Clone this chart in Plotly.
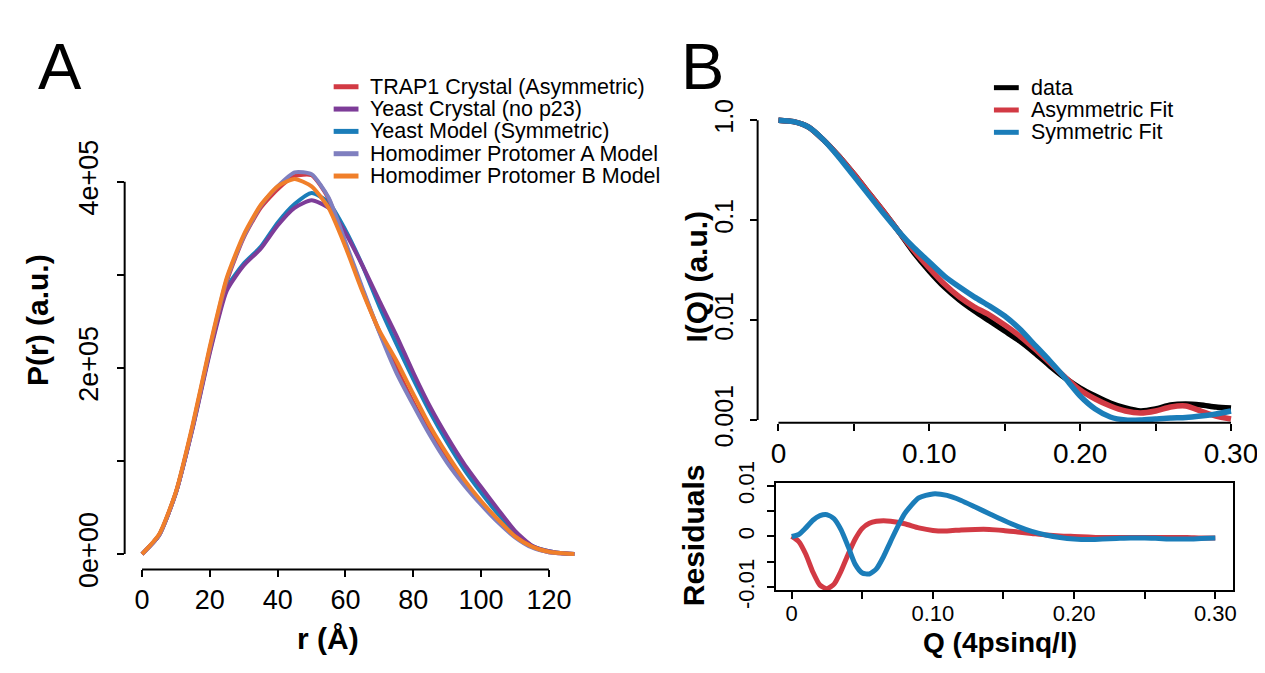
import plotly.graph_objects as go

W, H = 1265, 673

# ---------------- Panel A data: pair distance distributions ----------------
r_vals = [0, 5, 10, 15, 20, 25, 30, 35, 40, 45, 50, 55, 60, 65, 70, 75, 80, 85,
          90, 95, 100, 105, 110, 115, 120, 125, 127.5]
pr_trap1 = [0, 0.20e5, 0.66e5, 1.38e5, 2.20e5, 2.93e5, 3.40e5, 3.72e5, 3.92e5, 4.06e5,
            4.07e5, 3.82e5, 3.33e5, 2.84e5, 2.39e5, 2.00e5, 1.63e5, 1.30e5, 1.01e5,
            0.76e5, 0.55e5, 0.36e5, 0.19e5, 0.08e5, 0.02e5, 0.005e5, 0]
pr_yeast_crystal = [0, 0.20e5, 0.66e5, 1.36e5, 2.16e5, 2.83e5, 3.10e5, 3.28e5, 3.53e5, 3.72e5,
                    3.80e5, 3.72e5, 3.45e5, 3.10e5, 2.72e5, 2.35e5, 1.95e5, 1.58e5, 1.26e5,
                    0.97e5, 0.72e5, 0.48e5, 0.25e5, 0.09e5, 0.03e5, 0.005e5, 0]
pr_yeast_model = [0, 0.20e5, 0.66e5, 1.37e5, 2.18e5, 2.86e5, 3.12e5, 3.30e5, 3.56e5, 3.76e5,
                  3.88e5, 3.78e5, 3.48e5, 3.10e5, 2.66e5, 2.26e5, 1.88e5, 1.52e5, 1.20e5,
                  0.91e5, 0.66e5, 0.43e5, 0.23e5, 0.09e5, 0.03e5, 0.005e5, 0]
pr_homo_a = [0, 0.20e5, 0.66e5, 1.38e5, 2.21e5, 2.95e5, 3.41e5, 3.74e5, 3.95e5, 4.10e5,
             4.08e5, 3.83e5, 3.35e5, 2.86e5, 2.38e5, 1.95e5, 1.60e5, 1.27e5, 0.98e5,
             0.74e5, 0.53e5, 0.34e5, 0.18e5, 0.07e5, 0.02e5, 0.005e5, 0]
pr_homo_b = [0, 0.21e5, 0.67e5, 1.40e5, 2.23e5, 2.97e5, 3.43e5, 3.75e5, 3.95e5, 4.03e5,
             3.95e5, 3.72e5, 3.30e5, 2.82e5, 2.40e5, 2.08e5, 1.72e5, 1.37e5, 1.07e5,
             0.80e5, 0.57e5, 0.37e5, 0.19e5, 0.08e5, 0.025e5, 0.005e5, 0]

a_names = ["TRAP1 Crystal (Asymmetric)", "Yeast Crystal (no p23)", "Yeast Model (Symmetric)",
           "Homodimer Protomer A Model", "Homodimer Protomer B Model"]
a_colors = ["#D23A44", "#7D3C98", "#1B7DB9", "#7F7FBF", "#F07F2A"]
a_series = [pr_trap1, pr_yeast_crystal, pr_yeast_model, pr_homo_a, pr_homo_b]
a_draw_order = [2, 1, 0, 3, 4]

a_xticks = [0, 20, 40, 60, 80, 100, 120]
a_yticks = [0, 1e5, 2e5, 3e5, 4e5]
a_yticktext = ["0e+00", "", "2e+05", "", "4e+05"]

# ---------------- Panel B data: scattering profiles ----------------
q_vals = [0, 0.01, 0.02, 0.03, 0.04, 0.05, 0.06, 0.07, 0.08, 0.09, 0.10, 0.11, 0.12,
          0.13, 0.14, 0.15, 0.16, 0.17, 0.18, 0.19, 0.20, 0.21, 0.22, 0.23, 0.24,
          0.25, 0.26, 0.27, 0.28, 0.29, 0.30]
logi_data = [0, -0.015, -0.07, -0.20, -0.36, -0.54, -0.73, -0.92, -1.12, -1.33, -1.51,
             -1.67, -1.80, -1.91, -2.01, -2.11, -2.21, -2.33, -2.46, -2.58, -2.68, -2.76,
             -2.83, -2.88, -2.91, -2.89, -2.85, -2.84, -2.85, -2.87, -2.88]
logi_asym = [0, -0.015, -0.07, -0.20, -0.36, -0.54, -0.73, -0.92, -1.12, -1.31, -1.48,
             -1.64, -1.77, -1.87, -1.95, -2.05, -2.16, -2.29, -2.43, -2.57, -2.70, -2.79,
             -2.86, -2.91, -2.93, -2.91, -2.87, -2.86, -2.91, -2.96, -2.99]
logi_sym = [0, -0.015, -0.07, -0.20, -0.37, -0.56, -0.75, -0.94, -1.12, -1.28, -1.42,
            -1.56, -1.67, -1.77, -1.86, -1.96, -2.09, -2.25, -2.41, -2.58, -2.76, -2.89,
            -2.97, -3.00, -3.00, -2.99, -2.98, -2.975, -2.96, -2.94, -2.91]
i_data = [10 ** v for v in logi_data]
i_asym = [10 ** v for v in logi_asym]
i_sym = [10 ** v for v in logi_sym]

b_names = ["data", "Asymmetric Fit", "Symmetric Fit"]
b_colors = ["#000000", "#D23A44", "#1B7DB9"]

q_ticks = [0, 0.05, 0.10, 0.15, 0.20, 0.25, 0.30]
q_ticktext = ["0", "", "0.10", "", "0.20", "", "0.30"]
i_ticks = [0.001, 0.01, 0.1, 1.0]
i_ticktext = ["0.001", "0.01", "0.1", "1.0"]

# residuals
q_res = [0, 0.005, 0.01, 0.015, 0.02, 0.025, 0.03, 0.035, 0.04, 0.045, 0.05, 0.055, 0.06,
         0.065, 0.07, 0.08, 0.09, 0.10, 0.11, 0.12, 0.13, 0.14, 0.15, 0.16, 0.17, 0.18,
         0.19, 0.20, 0.21, 0.22, 0.23, 0.24, 0.25, 0.26, 0.27, 0.28, 0.29, 0.30]
res_asym = [0, -0.0010, -0.0035, -0.0070, -0.0096, -0.0103, -0.0094, -0.0068, -0.0035,
            -0.0005, 0.0016, 0.0026, 0.0030, 0.0031, 0.0030, 0.0025, 0.0017, 0.0012,
            0.0011, 0.0013, 0.0014, 0.0014, 0.0012, 0.0009, 0.0006, 0.0003, 0.0001, 0.0,
            -0.0001, -0.0002, -0.0002, -0.0002, -0.0002, -0.0002, -0.0002, -0.0002,
            -0.0003, -0.0003]
res_sym = [0, 0.0004, 0.0017, 0.0032, 0.0041, 0.0043, 0.0035, 0.0013, -0.0020, -0.0055,
           -0.0072, -0.0074, -0.0064, -0.0040, -0.0010, 0.0045, 0.0076, 0.0084, 0.0081,
           0.0071, 0.0058, 0.0045, 0.0032, 0.0020, 0.0010, 0.0003, -0.0002, -0.0005,
           -0.0006, -0.0005, -0.0004, -0.0003, -0.0003, -0.0004, -0.0005, -0.0005,
           -0.0004, -0.0003]
res_ticks = [-0.01, -0.005, 0, 0.005, 0.01]
res_ticktext = ["-0.01", "", "0", "", "0.01"]

FONT = "Liberation Sans, Arial, Helvetica, sans-serif"


def px_x(p):
    return p / W


def px_y(p):
    return 1 - p / H


fig = go.Figure()

# Panel A traces
for i in a_draw_order:
    fig.add_trace(go.Scatter(x=r_vals, y=a_series[i], mode="lines", name=a_names[i],
                             line=dict(color=a_colors[i], width=4, shape="spline", smoothing=0.6),
                             xaxis="x", yaxis="y", showlegend=False))

# Panel B top
for yv, nm, col in [(i_data, b_names[0], b_colors[0]), (i_asym, b_names[1], b_colors[1]),
                    (i_sym, b_names[2], b_colors[2])]:
    fig.add_trace(go.Scatter(x=q_vals, y=yv, mode="lines", name=nm,
                             line=dict(color=col, width=5.5, shape="spline", smoothing=0.6),
                             xaxis="x2", yaxis="y2", showlegend=False))

# Panel B residuals
fig.add_trace(go.Scatter(x=q_res, y=res_asym, mode="lines", name="Asymmetric residual",
                         line=dict(color=b_colors[1], width=5, shape="spline", smoothing=0.6),
                         xaxis="x3", yaxis="y3", showlegend=False))
fig.add_trace(go.Scatter(x=q_res, y=res_sym, mode="lines", name="Symmetric residual",
                         line=dict(color=b_colors[2], width=5, shape="spline", smoothing=0.6),
                         xaxis="x3", yaxis="y3", showlegend=False))

axis_common = dict(showgrid=False, zeroline=False, showline=False, ticks="outside",
                   ticklen=7, tickwidth=1.5, tickcolor="black",
                   tickfont=dict(family=FONT, size=27, color="black"))

fig.update_layout(
    width=W, height=H, margin=dict(l=0, r=0, t=0, b=0),
    paper_bgcolor="white", plot_bgcolor="white", showlegend=False,
    xaxis=dict(axis_common, domain=[px_x(117.5), px_x(589.6)], range=[-5.12, 133.12],
               tickvals=a_xticks, anchor="y", ticklabelstandoff=-1),
    yaxis=dict(axis_common, domain=[px_y(580), px_y(131.5)], range=[-16600, 431600],
               tickvals=a_yticks, ticktext=a_yticktext, tickangle=-90, anchor="x",
               ticklabelstandoff=8),
    xaxis2=dict(axis_common, domain=[px_x(755), px_x(1250)], range=[-0.0138, 0.312],
                tickvals=q_ticks, ticktext=q_ticktext, anchor="y2", ticklabelstandoff=-1,
                tickfont=dict(family=FONT, size=28, color="black")),
    yaxis2=dict(axis_common, type="log", domain=[px_y(422.3), px_y(84)], range=[-3.028, 0.12],
                tickvals=i_ticks, ticktext=i_ticktext, tickangle=-90, anchor="x2",
                ticklabelstandoff=7,
                tickfont=dict(family=FONT, size=25, color="black")),
    xaxis3=dict(axis_common, domain=[px_x(773.3), px_x(1234)], range=[-0.01125, 0.3127],
                tickvals=q_ticks, ticktext=q_ticktext, anchor="y3",
                showline=True, mirror=True, linecolor="black", linewidth=2,
                ticklabelstandoff=-4,
                tickfont=dict(family=FONT, size=22, color="black")),
    yaxis3=dict(axis_common, domain=[px_y(602), px_y(487)], range=[-0.01055, 0.01055],
                tickvals=res_ticks, ticktext=res_ticktext, tickangle=-90, anchor="x3",
                showline=True, mirror=True, linecolor="black", linewidth=2,
                ticklabelstandoff=4,
                tickfont=dict(family=FONT, size=22, color="black")),
)

shapes = []
# R-style axis segments spanning the first to last tick
shapes.append(dict(type="line", xref="x", yref="y domain", x0=min(a_xticks), x1=max(a_xticks),
                   y0=0, y1=0, line=dict(color="black", width=2)))
shapes.append(dict(type="line", xref="x domain", yref="y", x0=0, x1=0, y0=min(a_yticks),
                   y1=max(a_yticks), line=dict(color="black", width=2)))
shapes.append(dict(type="line", xref="x2", yref="y2 domain", x0=min(q_ticks), x1=max(q_ticks),
                   y0=0, y1=0, line=dict(color="black", width=2)))
shapes.append(dict(type="line", xref="x2 domain", yref="y2", x0=0, x1=0, y0=min(i_ticks),
                   y1=max(i_ticks), line=dict(color="black", width=2)))

annotations = []
# manual legends (R-style compact)
legA_rows = [61, 85, 109, 133, 157]
for k in range(len(a_names)):
    yy = px_y(legA_rows[k])
    shapes.append(dict(type="line", xref="paper", yref="paper", x0=px_x(328), x1=px_x(353),
                       y0=yy, y1=yy, line=dict(color=a_colors[k], width=5)))
    annotations.append(dict(text=a_names[k], xref="paper", yref="paper", x=px_x(363), y=yy,
                            xanchor="left", yanchor="middle", showarrow=False,
                            font=dict(family=FONT, size=21.5, color="black")))
legB_rows = [62, 86, 110]
for k in range(len(b_names)):
    yy = px_y(legB_rows[k])
    shapes.append(dict(type="line", xref="paper", yref="paper", x0=px_x(993), x1=px_x(1018),
                       y0=yy, y1=yy, line=dict(color=b_colors[k], width=5)))
    annotations.append(dict(text=b_names[k], xref="paper", yref="paper", x=px_x(1028), y=yy,
                            xanchor="left", yanchor="middle", showarrow=False,
                            font=dict(family=FONT, size=21.5, color="black")))

# panel letters
annotations.append(dict(text="A", xref="paper", yref="paper", x=px_x(52), y=px_y(39),
                        xanchor="center", yanchor="middle", showarrow=False,
                        font=dict(family=FONT, size=65, color="black")))
annotations.append(dict(text="B", xref="paper", yref="paper", x=px_x(699), y=px_y(39),
                        xanchor="center", yanchor="middle", showarrow=False,
                        font=dict(family=FONT, size=65, color="black")))

# axis titles
bold = dict(family=FONT, size=30, color="black")
annotations.append(dict(text="<b>r (Å)</b>", xref="paper", yref="paper", x=px_x(322), y=px_y(654),
                        xanchor="center", yanchor="middle", showarrow=False, font=bold))
annotations.append(dict(text="<b>P(r) (a.u.)</b>", xref="paper", yref="paper", x=px_x(29), y=px_y(312),
                        xanchor="center", yanchor="middle", showarrow=False, font=bold, textangle=-90))
annotations.append(dict(text="<b>I(Q) (a.u.)</b>", xref="paper", yref="paper", x=px_x(693), y=px_y(265),
                        xanchor="center", yanchor="middle", showarrow=False, font=bold, textangle=-90))
annotations.append(dict(text="<b>Residuals</b>", xref="paper", yref="paper", x=px_x(690), y=px_y(543),
                        xanchor="center", yanchor="middle", showarrow=False, font=bold, textangle=-90))
annotations.append(dict(text="<b>Q (4psinq/l)</b>", xref="paper", yref="paper", x=px_x(999), y=px_y(659),
                        xanchor="center", yanchor="middle", showarrow=False,
                        font=dict(family=FONT, size=28, color="black")))

fig.update_layout(shapes=shapes, annotations=annotations)
fig.write_html("out.html")
